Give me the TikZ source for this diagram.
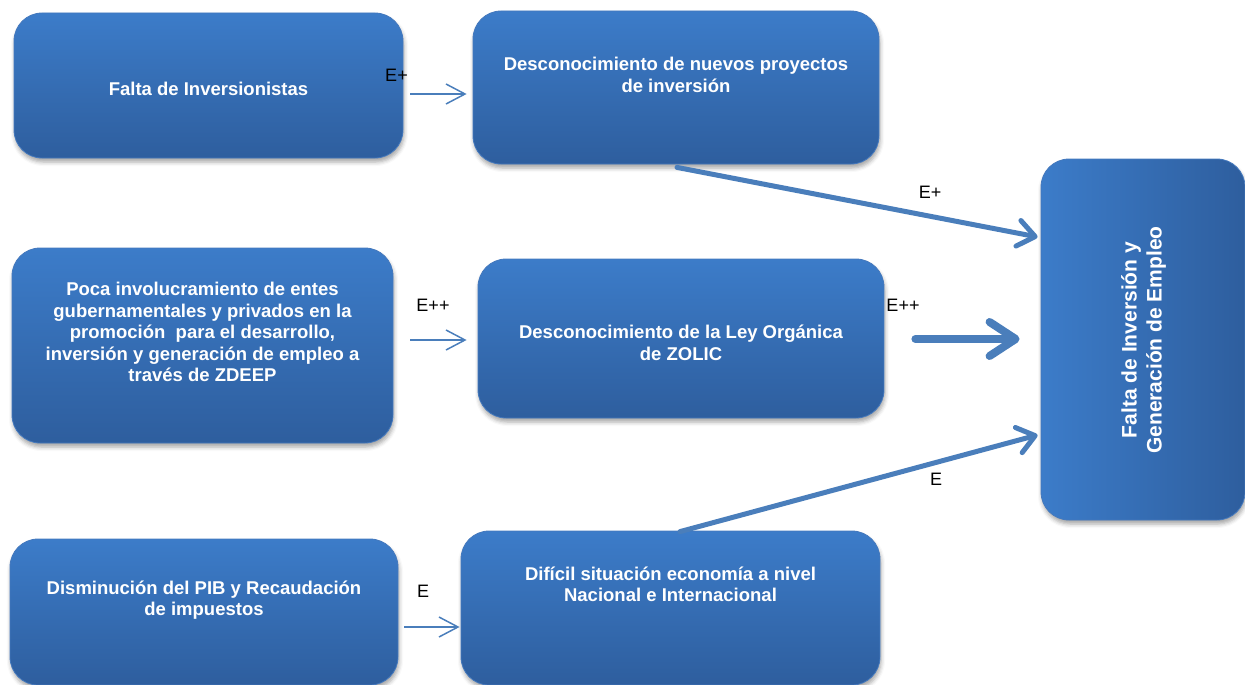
\documentclass[tikz,border=0pt]{standalone}
\usepackage{fontspec}
\setmainfont{Liberation Sans}
\usetikzlibrary{positioning,arrows.meta,calc,shadows.blur}
\definecolor{cTop}{HTML}{3C7CC9}
\definecolor{cBot}{HTML}{2E5E9E}
\definecolor{cEdge}{HTML}{4579BD}
\definecolor{cLink}{HTML}{4A7EBB}
\tikzset{
  box/.style={rectangle,rounded corners=28pt,draw=cEdge,line width=0.8pt,
    shading=axis,top color=cTop,bottom color=cBot,
    blur shadow={shadow xshift=1pt,shadow yshift=-4pt,
      shadow blur radius=4pt,shadow opacity=35}},
  box-side/.style={box,left color=cTop,right color=cBot},
  box-text/.style={align=center,text=white,inner sep=0pt,
    font=\fontsize{18.5}{21.4}\selectfont\bfseries},
  side-text/.style={box-text,rotate=90,
    font=\fontsize{21}{25}\selectfont\bfseries},
  link-label/.style={inner sep=0pt,font=\fontsize{18}{20}\selectfont},
  arrow-thin/.style={-{Straight Barb[length=19pt,width=20pt]},line width=1.5pt,draw=cLink},
  arrow-thick/.style={-{Straight Barb[round,length=17pt,width=26pt]},line width=5pt,
    line cap=round,draw=cLink},
  arrow-heavy/.style={-{Straight Barb[round,length=26pt,width=34pt]},line width=8pt,
    line cap=round,draw=cLink},
}
\begin{document}
\begin{tikzpicture}[x=1pt,y=-1pt]
  \useasboundingbox (0,0) rectangle (1245,685);
  % cajas
  \node[box,minimum width=389pt,minimum height=145pt] (inv) at (208.5,85.5) {};
  \node[box,minimum width=406pt,minimum height=153pt] (proy) at (676,87.5) {};
  \node[box,minimum width=381pt,minimum height=195pt] (entes) at (202.5,345.5) {};
  \node[box,minimum width=406pt,minimum height=159pt] (ley) at (681,338.5) {};
  \node[box,minimum width=388pt,minimum height=146pt] (pib) at (204,612) {};
  \node[box,minimum width=419pt,minimum height=154pt] (econ) at (670.5,608) {};
  \node[box-side,minimum width=204pt,minimum height=361pt] (empleo) at (1143,339.5) {};
  % textos
  \node[box-text] (t-inv) at (208.5,89) {Falta de Inversionistas};
  \node[box-text] (t-proy) at (676,75) {Desconocimiento de nuevos proyectos\\de inversión};
  \node[box-text] (t-entes) at (202.5,332) {Poca involucramiento de entes\\gubernamentales y privados en la\\promoción\ \ para el desarrollo,\\inversión y generación de empleo a\\través de ZDEEP};
  \node[box-text] (t-ley) at (681,343) {Desconocimiento de la Ley Orgánica\\de ZOLIC};
  \node[box-text] (t-pib) at (204,600) {Disminución del PIB y Recaudación\\de impuestos};
  \node[box-text] (t-econ) at (670.5,584) {Difícil situación economía a nivel\\Nacional e Internacional};
  \node[side-text] (t-empleo) at (1143.5,340) {Falta de Inversión y\\Generación de Empleo};
  % flechas
  \draw[arrow-thin] ($(inv.east)+(7,8.5)$) -- ($(proy.west)+(-6,6.5)$);
  \draw[arrow-thin] ($(entes.east)+(17,-5.5)$) -- ($(ley.west)+(-11,1.5)$);
  \draw[arrow-thin] ($(pib.east)+(6,15)$) -- ($(econ.west)+(-1,19)$);
  \draw[arrow-thick] ($(proy.south)+(1,3)$) -- ($(empleo.west)+(-3,-102.5)$);
  \draw[arrow-heavy] ($(ley.east)+(31,0.5)$) -- ($(empleo.west)+(-21,-0.5)$);
  \draw[arrow-thick] ($(econ.north)+(9.5,1)$) -- ($(empleo.west)+(-3,95.5)$);
  % etiquetas
  \node[link-label] (l-inv) at (396.5,75.5) {E+};
  \node[link-label] (l-entes) at (433,305) {E++};
  \node[link-label] (l-pib) at (423,591) {E};
  \node[link-label] (l-proy) at (930,192) {E+};
  \node[link-label] (l-ley) at (903,305) {E++};
  \node[link-label] (l-econ) at (936,479) {E};
\end{tikzpicture}
\end{document}
